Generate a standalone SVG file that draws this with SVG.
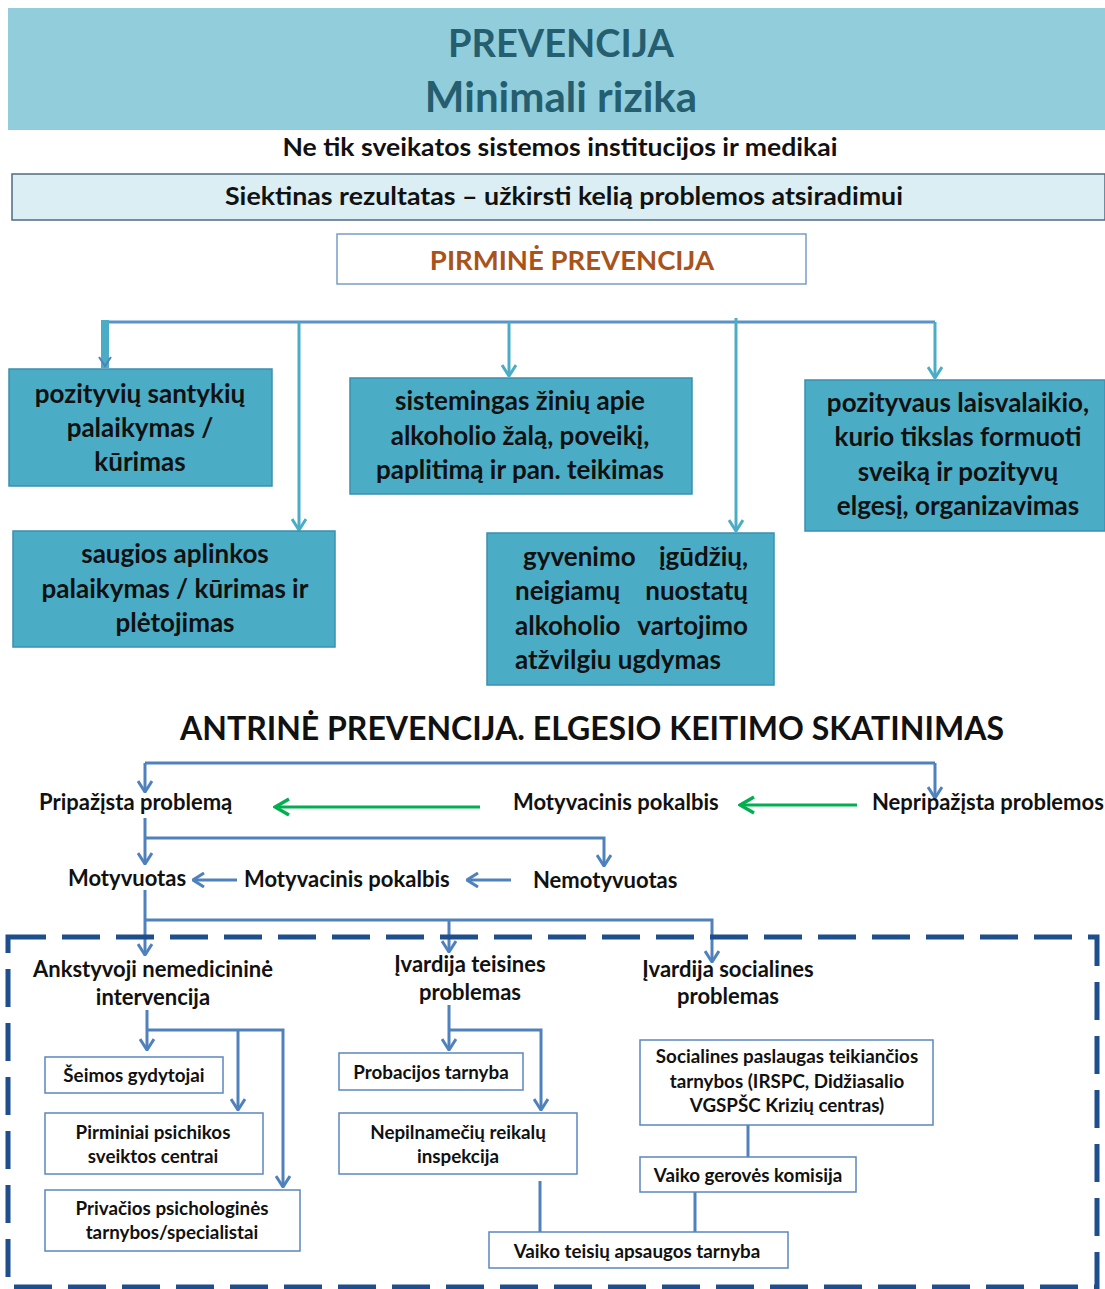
<svg xmlns="http://www.w3.org/2000/svg" width="1105" height="1289" viewBox="0 0 1105 1289">
  <style>
    text { font-family: "Lato", "Liberation Sans", sans-serif; font-weight: bold; fill: #111; }
    .c { text-anchor: middle; }
    .title { font-size: 38px; fill: #245e6f; }
    .title2 { font-size: 42px; fill: #245e6f; }
    .sub { font-size: 24px; }
    .prim { font-size: 27.5px; fill: #a9531a; }
    .big { font-size: 26px; }
    .mid { font-size: 22px; }
    .sm { font-size: 18.8px; }
    .tealbox { fill: #4bacc6; stroke: #3b8fb0; stroke-width: 1.5; }
    .wbox { fill: #fff; stroke: #5b87c0; stroke-width: 1.5; }
    .tl { fill: none; stroke: #4bacc6; stroke-width: 3; }
    .bl { fill: none; stroke: #4f81bd; stroke-width: 3; }
    .gl { fill: none; stroke: #00b050; stroke-width: 3; }
  </style>
  <defs>
    <marker id="aT" viewBox="0 0 16 16" refX="15" refY="8" markerWidth="16" markerHeight="16" orient="auto" markerUnits="userSpaceOnUse">
      <path d="M4,1 L15,8 L4,15" fill="none" stroke="#4bacc6" stroke-width="3"/>
    </marker>
    <marker id="aB" viewBox="0 0 16 16" refX="15" refY="8" markerWidth="16" markerHeight="16" orient="auto" markerUnits="userSpaceOnUse">
      <path d="M4,1 L15,8 L4,15" fill="none" stroke="#4f81bd" stroke-width="3"/>
    </marker>
    <marker id="aG" viewBox="0 0 20 20" refX="18" refY="10" markerWidth="20" markerHeight="20" orient="auto" markerUnits="userSpaceOnUse">
      <path d="M4,2 L18,10 L4,18" fill="none" stroke="#00b050" stroke-width="3.5"/>
    </marker>
  </defs>

  <!-- header band -->
  <g id="header">
    <rect x="8" y="8" width="1097" height="122" fill="#92cddc"/>
    <text class="title c" x="561" y="57">PREVENCIJA</text>
    <text class="title2 c" x="561" y="112">Minimali rizika</text>
  </g>
  <g id="note">
    <text class="sub c" x="560" y="156" textLength="555" lengthAdjust="spacingAndGlyphs">Ne tik sveikatos sistemos institucijos ir medikai</text>
  </g>
  <g id="goal">
    <rect x="12" y="174" width="1093" height="46" fill="#daeef3" stroke="#4f6b80" stroke-width="1.5"/>
    <text class="sub c" x="564" y="205" textLength="678" lengthAdjust="spacingAndGlyphs">Siektinas rezultatas – užkirsti kelią problemos atsiradimui</text>
  </g>
  <g id="primary">
    <rect x="337" y="234" width="469" height="50" fill="#fff" stroke="#7a9cc6" stroke-width="1.5"/>
    <text class="prim c" x="572" y="270">PIRMINĖ PREVENCIJA</text>
  </g>

  <!-- connectors -->
  <g id="connectors">
    <!-- primary prevention branches -->
    <line x1="105" y1="322" x2="935" y2="322" stroke="#5b93c8" stroke-width="3"/>
    <rect x="101" y="320" width="8" height="48" fill="#4bacc6"/>
    <path d="M99,357 L105,366 L111,357" fill="none" stroke="#4f81bd" stroke-width="2"/>
    <path class="tl" d="M299,322 V530" marker-end="url(#aT)"/>
    <path class="tl" d="M509,322 V376" marker-end="url(#aT)"/>
    <path class="tl" d="M736,318 V531" marker-end="url(#aT)"/>
    <path class="tl" d="M935,322 V378" marker-end="url(#aT)"/>

    <!-- secondary prevention flow -->
    <path class="bl" d="M145,763 H935"/>
    <path class="bl" d="M145,763 V792" marker-end="url(#aB)"/>
    <path class="bl" d="M935,763 V798" marker-end="url(#aB)"/>
    <path class="gl" d="M480,807 H275" marker-end="url(#aG)"/>
    <path class="gl" d="M857,805 H740" marker-end="url(#aG)"/>
    <path class="bl" d="M145,818 V864" marker-end="url(#aB)"/>
    <path class="bl" d="M145,838 H604 V866" marker-end="url(#aB)"/>
    <path class="bl" d="M237,880 H193" marker-end="url(#aB)"/>
    <path class="bl" d="M511,880 H467" marker-end="url(#aB)"/>
    <path class="bl" d="M145,890 V955" marker-end="url(#aB)"/>
    <path class="bl" d="M145,920 H712 V962" marker-end="url(#aB)"/>
    <path class="bl" d="M449,920 V952" marker-end="url(#aB)"/>

    <!-- services -->
    <path class="bl" d="M147,1010 V1050" marker-end="url(#aB)"/>
    <path class="bl" d="M147,1030 H283 V1187" marker-end="url(#aB)"/>
    <path class="bl" d="M238,1030 V1110" marker-end="url(#aB)"/>
    <path class="bl" d="M449,1005 V1050" marker-end="url(#aB)"/>
    <path class="bl" d="M449,1030 H541 V1110" marker-end="url(#aB)"/>
    <path class="bl" d="M540,1181 V1232"/>
    <path class="bl" d="M748,1125 V1157"/>
    <path class="bl" d="M695,1192 V1232"/>
  </g>

  <!-- primary prevention activities -->
  <g id="n-santykiai">
    <rect class="tealbox" x="9" y="369" width="263" height="117"/>
    <text class="big c" x="140" y="403">pozityvių santykių</text>
    <text class="big c" x="140" y="437">palaikymas /</text>
    <text class="big c" x="140" y="471">kūrimas</text>
  </g>
  <g id="n-zinios">
    <rect class="tealbox" x="350" y="378" width="342" height="116"/>
    <text class="big c" x="520" y="410">sistemingas žinių apie</text>
    <text class="big c" x="520" y="445">alkoholio žalą, poveikį,</text>
    <text class="big c" x="520" y="479">paplitimą ir pan. teikimas</text>
  </g>
  <g id="n-laisvalaikis">
    <rect class="tealbox" x="805" y="380" width="300" height="151"/>
    <text class="big c" x="958" y="412">pozityvaus laisvalaikio,</text>
    <text class="big c" x="958" y="446">kurio tikslas formuoti</text>
    <text class="big c" x="958" y="481">sveiką ir pozityvų</text>
    <text class="big c" x="958" y="515">elgesį, organizavimas</text>
  </g>
  <g id="n-aplinka">
    <rect class="tealbox" x="13" y="531" width="322" height="116"/>
    <text class="big c" x="175" y="563">saugios aplinkos</text>
    <text class="big c" x="175" y="598">palaikymas / kūrimas ir</text>
    <text class="big c" x="175" y="632">plėtojimas</text>
  </g>
  <g id="n-igudziai">
    <rect class="tealbox" x="487" y="533" width="287" height="152"/>
    <text class="big" x="523" y="566">gyvenimo</text>
    <text class="big" x="748" y="566" text-anchor="end">įgūdžių,</text>
    <text class="big" x="515" y="600">neigiamų</text>
    <text class="big" x="748" y="600" text-anchor="end">nuostatų</text>
    <text class="big" x="515" y="635">alkoholio</text>
    <text class="big" x="748" y="635" text-anchor="end">vartojimo</text>
    <text class="big" x="515" y="669">atžvilgiu ugdymas</text>
  </g>

  <!-- secondary prevention -->
  <g id="secondary-title">
    <text class="c" x="592" y="740" font-size="32">ANTRINĖ PREVENCIJA. ELGESIO KEITIMO SKATINIMAS</text>
  </g>
  <g id="n-pripazista"><text class="mid" x="39" y="810">Pripažįsta problemą</text></g>
  <g id="n-pokalbis1"><text class="mid" x="513" y="810">Motyvacinis pokalbis</text></g>
  <g id="n-nepripazista"><text class="mid" x="872" y="810">Nepripažįsta problemos</text></g>
  <g id="n-motyvuotas"><text class="mid" x="68" y="886">Motyvuotas</text></g>
  <g id="n-pokalbis2"><text class="mid" x="244" y="887">Motyvacinis pokalbis</text></g>
  <g id="n-nemotyvuotas"><text class="mid" x="533" y="888">Nemotyvuotas</text></g>

  <!-- referral area -->
  <g id="referral-frame">
    <rect x="8" y="937" width="1089" height="350" fill="none" stroke="#1f4e8c" stroke-width="5" stroke-dasharray="38 16"/>
  </g>
  <g id="n-intervencija">
    <text class="mid c" x="153" y="977">Ankstyvoji nemedicininė</text>
    <text class="mid c" x="153" y="1005">intervencija</text>
  </g>
  <g id="n-teisines">
    <text class="mid c" x="470" y="972">Įvardija teisines</text>
    <text class="mid c" x="470" y="1000">problemas</text>
  </g>
  <g id="n-socialines">
    <text class="mid c" x="728" y="977">Įvardija socialines</text>
    <text class="mid c" x="728" y="1004">problemas</text>
  </g>
  <g id="n-seimos">
    <rect class="wbox" x="45" y="1057" width="178" height="36"/>
    <text class="sm c" x="134" y="1082">Šeimos gydytojai</text>
  </g>
  <g id="n-psichikos">
    <rect class="wbox" x="45" y="1113" width="218" height="61"/>
    <text class="sm c" x="153" y="1139">Pirminiai psichikos</text>
    <text class="sm c" x="153" y="1163">sveiktos centrai</text>
  </g>
  <g id="n-privacios">
    <rect class="wbox" x="45" y="1190" width="255" height="61"/>
    <text class="sm c" x="172" y="1215">Privačios psichologinės</text>
    <text class="sm c" x="172" y="1239">tarnybos/specialistai</text>
  </g>
  <g id="n-probacijos">
    <rect class="wbox" x="339" y="1053" width="184" height="37"/>
    <text class="sm c" x="431" y="1079">Probacijos tarnyba</text>
  </g>
  <g id="n-inspekcija">
    <rect class="wbox" x="339" y="1113" width="238" height="61"/>
    <text class="sm c" x="458" y="1139">Nepilnamečių reikalų</text>
    <text class="sm c" x="458" y="1163">inspekcija</text>
  </g>
  <g id="n-socpaslaugos">
    <rect class="wbox" x="640" y="1040" width="293" height="85"/>
    <text class="sm c" x="787" y="1063">Socialines paslaugas teikiančios</text>
    <text class="sm c" x="787" y="1088">tarnybos (IRSPC, Didžiasalio</text>
    <text class="sm c" x="787" y="1112">VGSPŠC Krizių centras)</text>
  </g>
  <g id="n-gerove">
    <rect class="wbox" x="640" y="1157" width="216" height="35"/>
    <text class="sm c" x="748" y="1182">Vaiko gerovės komisija</text>
  </g>
  <g id="n-vtat">
    <rect class="wbox" x="489" y="1232" width="299" height="36"/>
    <text class="sm c" x="637" y="1258">Vaiko teisių apsaugos tarnyba</text>
  </g>
</svg>
